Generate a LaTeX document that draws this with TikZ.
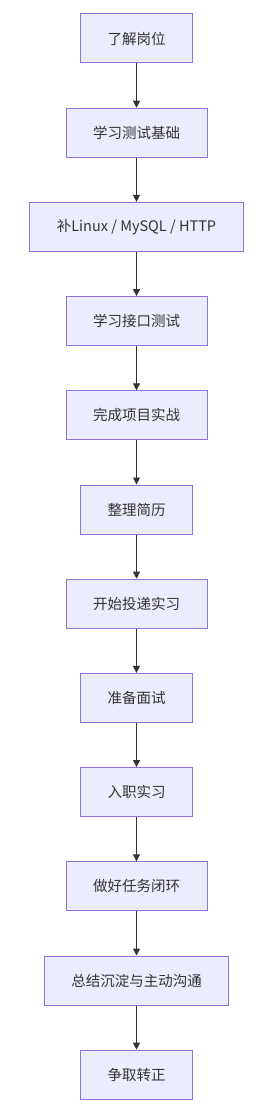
\documentclass[tikz,border=0pt]{standalone}
\usepackage{fontspec}
\newfontfamily\cjk{Noto Sans CJK SC}
\usepackage{xcolor}
\usepackage{tikz}
\usetikzlibrary{
arrows.meta,
positioning
}

\definecolor{boxfill}{HTML}{ECECFF}
\definecolor{boxline}{HTML}{9370DB}
\definecolor{linkcol}{HTML}{333333}

\begin{document}
\begin{tikzpicture}[
x=1pt,y=1pt,
node distance=44.2pt,
box/.style={
draw=boxline,
fill=boxfill,
line width=1pt,
minimum height=49pt,
inner xsep=27pt,
font=\cjk\fontsize{14.5pt}{17pt}\selectfont,
text=black!80,
align=center
},
arrow/.style={-{Triangle[length=7pt,width=7pt]},draw=linkcol,line width=1pt}
]

\useasboundingbox[fill=white] (0,0) rectangle (274,-1118);

\node[box] (know) at (136.5,-38.5) {了解岗位};
\node[box,below=of know] (basics) {学习测试基础};
\node[box,below=of basics] (linux) {补Linux / MySQL / HTTP};
\node[box,below=of linux] (api) {学习接口测试};
\node[box,below=of api] (project) {完成项目实战};
\node[box,below=of project] (resume) {整理简历};
\node[box,below=of resume] (apply) {开始投递实习};
\node[box,below=of apply] (interview) {准备面试};
\node[box,below=of interview] (join) {入职实习};
\node[box,below=of join] (tasks) {做好任务闭环};
\node[box,below=of tasks] (summary) {总结沉淀与主动沟通};
\node[box,below=of summary] (regular) {争取转正};

\draw[arrow] (know) -- (basics);
\draw[arrow] (basics) -- (linux);
\draw[arrow] (linux) -- (api);
\draw[arrow] (api) -- (project);
\draw[arrow] (project) -- (resume);
\draw[arrow] (resume) -- (apply);
\draw[arrow] (apply) -- (interview);
\draw[arrow] (interview) -- (join);
\draw[arrow] (join) -- (tasks);
\draw[arrow] (tasks) -- (summary);
\draw[arrow] (summary) -- (regular);

\end{tikzpicture}
\end{document}
